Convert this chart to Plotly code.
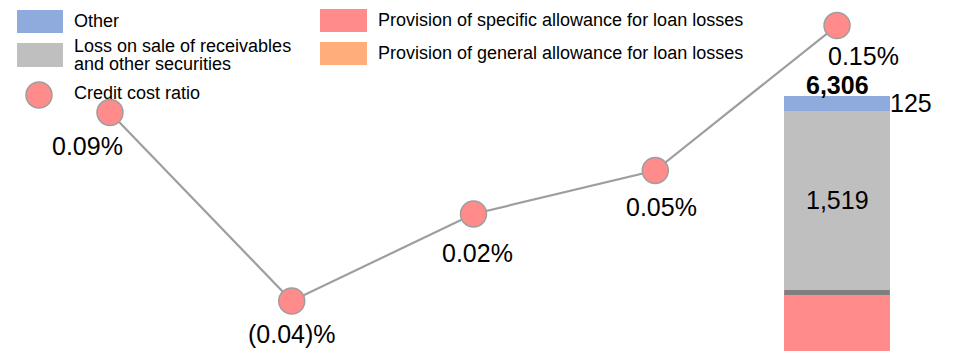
import plotly.graph_objects as go

# ---- data -------------------------------------------------------------
periods = ["Period 1", "Period 2", "Period 3", "Period 4", "Period 5"]
credit_cost_ratio = [0.09, -0.04, 0.02, 0.05, 0.15]          # %
other = [None, None, None, None, 125]
loss_on_sale = [None, None, None, None, 1519]
specific_allowance = [None, None, None, None, 4662]
general_allowance = [None, None, None, None, None]

# ---- styling ----------------------------------------------------------
FONT = "Liberation Sans, Arial, Helvetica, sans-serif"
C_OTHER = "#8FAADC"
C_LOSS = "#BFBFBF"
C_SPEC = "#FF8B8B"
C_GEN = "#FFAE7B"
C_LINE = "#9E9E9E"
W, H = 957, 351
BAR_W = 0.58

# label offsets (px, right / down) for the ratio labels
ratio_label_offsets = [(-22, 33), (0, 33), (4, 39), (6, 36), (26, 30)]


def fmt_ratio(v):
    return f"({abs(v):.2f})%" if v < 0 else f"{v:.2f}%"


def px(x, y):
    """pixel position -> paper coordinates"""
    return x / W, 1 - y / H


fig = go.Figure()

stack = [
    ("Provision of general allowance for loan losses", general_allowance, C_GEN),
    ("Provision of specific allowance for loan losses", specific_allowance, C_SPEC),
    ("Loss on sale of receivables and other securities", loss_on_sale, C_LOSS),
    ("Other", other, C_OTHER),
]
for name, vals, col in stack:
    fig.add_trace(go.Bar(
        x=periods, y=vals, name=name, marker=dict(color=col, line=dict(width=0)),
        width=BAR_W, showlegend=False, yaxis="y",
    ))

fig.add_trace(go.Scatter(
    x=periods, y=credit_cost_ratio, mode="lines+markers", yaxis="y2",
    line=dict(color=C_LINE, width=2.2),
    marker=dict(size=26, color=C_SPEC, line=dict(color=C_LINE, width=1.5)),
    showlegend=False, cliponaxis=False,
))

annotations = []
for i, (v, (dx, dy)) in enumerate(zip(credit_cost_ratio, ratio_label_offsets)):
    annotations.append(dict(
        x=periods[i], y=v, xref="x", yref="y2", text=fmt_ratio(v),
        showarrow=False, xanchor="center", yanchor="middle",
        xshift=dx, yshift=-dy, font=dict(family=FONT, size=25, color="#000"),
    ))

# stacked-bar value labels
for i, p in enumerate(periods):
    parts = [general_allowance[i], specific_allowance[i], loss_on_sale[i], other[i]]
    if all(v is None for v in parts):
        continue
    total = sum(v for v in parts if v is not None)
    base_loss = sum(v for v in parts[:2] if v is not None)
    annotations.append(dict(
        x=p, y=total, xref="x", yref="y", text=f"<b>{total:,}</b>",
        showarrow=False, xanchor="center", yanchor="middle", yshift=11,
        font=dict(family=FONT, size=25, color="#000"),
    ))
    if other[i] is not None:
        annotations.append(dict(
            x=i + BAR_W / 2, y=total - other[i] / 2, xref="x", yref="y",
            text=f"{other[i]:,}", showarrow=False, xanchor="left", yanchor="middle",
            xshift=-2, font=dict(family=FONT, size=25, color="#000"),
        ))
    if loss_on_sale[i] is not None:
        annotations.append(dict(
            x=p, y=base_loss + loss_on_sale[i] / 2, xref="x", yref="y",
            text=f"{loss_on_sale[i]:,}", showarrow=False, xanchor="center",
            yanchor="middle", font=dict(family=FONT, size=25, color="#000"),
        ))

shapes = []
# dark separator on top of the specific-allowance segment
for i in range(len(periods)):
    if specific_allowance[i] is None:
        continue
    top = sum(v for v in (general_allowance[i], specific_allowance[i]) if v is not None)
    shapes.append(dict(
        type="rect", xref="x", yref="y", x0=i - BAR_W / 2, x1=i + BAR_W / 2,
        ysizemode="pixel", yanchor=top, y0=-5, y1=0,
        fillcolor="#7F7F7F", line=dict(width=0), layer="above",
    ))

# ---- legend (drawn in paper space) ------------------------------------
legend_boxes = [
    ((17, 10, 63, 33), C_OTHER),
    ((17, 43, 63, 67), C_LOSS),
    ((320, 9, 367, 32), C_SPEC),
    ((320, 42, 367, 65), C_GEN),
]
for (x0, y0, x1, y1), col in legend_boxes:
    a0, b0 = px(x0, y0)
    a1, b1 = px(x1, y1)
    shapes.append(dict(type="rect", xref="paper", yref="paper", x0=a0, y0=b1,
                       x1=a1, y1=b0, fillcolor=col, line=dict(width=0)))
cx0, cy0 = px(26, 82)
cx1, cy1 = px(52, 108)
shapes.append(dict(type="circle", xref="paper", yref="paper", x0=cx0, y0=cy1,
                   x1=cx1, y1=cy0, fillcolor=C_SPEC, line=dict(color=C_LINE, width=1.5)))

legend_texts = [
    (72, 21, "Other"),
    (72, 46, "Loss on sale of receivables"),
    (72, 64, "and other securities"),
    (72, 93, "Credit cost ratio"),
    (376, 20, "Provision of specific allowance for loan losses"),
    (376, 53, "Provision of general allowance for loan losses"),
]
for x, y, t in legend_texts:
    a, b = px(x, y)
    annotations.append(dict(
        x=a, y=b, xref="paper", yref="paper", text=t, showarrow=False,
        xanchor="left", yanchor="middle", font=dict(family=FONT, size=18, color="#000"),
    ))

fig.update_layout(
    width=W, height=H, margin=dict(l=0, r=0, t=0, b=0, pad=0),
    paper_bgcolor="white", plot_bgcolor="white", barmode="stack",
    showlegend=False, annotations=annotations, shapes=shapes,
    xaxis=dict(visible=False, type="category", range=[-0.605, 4.66]),
    yaxis=dict(visible=False, range=[4145, 7120]),
    yaxis2=dict(visible=False, overlaying="y", range=[-0.0745, 0.1676]),
    font=dict(family=FONT),
)

fig.write_html("out.html")
